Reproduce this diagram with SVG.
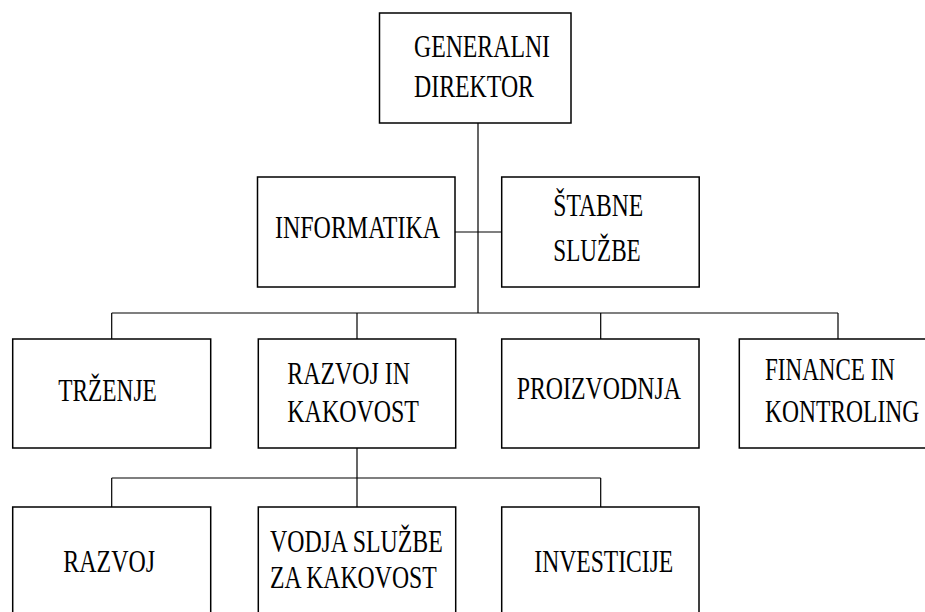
<svg xmlns="http://www.w3.org/2000/svg" width="925" height="612" viewBox="0 0 925 612">
<style>
.box{fill:#fff;stroke:#000;stroke-width:1.5}
text{font-family:'Liberation Serif','Times New Roman','DejaVu Serif',serif;font-size:31px;fill:#000}
.c{fill:none;stroke:#000;stroke-width:1.2}
</style>
<rect width="925" height="612" fill="#fff"/>
<g id="connectors">
<path class="c" d="M478,123V313M455,232H502M111.7,313H838M111.7,313V339M357,313V339M600.7,313V339M838,313V339M357,448V507M111.7,478H600.7M111.7,478V507M600.7,478V507"/>
</g>
<g id="generalni">
<rect class="box" x="379.5" y="13" width="191.5" height="110"/>
<text x="414" y="56.7" textLength="136" lengthAdjust="spacingAndGlyphs">GENERALNI</text>
<text x="414" y="96.7" textLength="120" lengthAdjust="spacingAndGlyphs">DIREKTOR</text>
</g>
<g id="informatika">
<rect class="box" x="257.5" y="177" width="197.5" height="110"/>
<text x="275" y="238.3" textLength="165" lengthAdjust="spacingAndGlyphs">INFORMATIKA</text>
</g>
<g id="stabne">
<rect class="box" x="501.7" y="177" width="197.5" height="110"/>
<text x="553.3" y="215.7" textLength="90" lengthAdjust="spacingAndGlyphs">ŠTABNE</text>
<text x="553.3" y="260.7" textLength="87.4" lengthAdjust="spacingAndGlyphs">SLUŽBE</text>
</g>
<g id="trzenje">
<rect class="box" x="12.7" y="339" width="198" height="109"/>
<text x="58.3" y="400.7" textLength="98.4" lengthAdjust="spacingAndGlyphs">TRŽENJE</text>
</g>
<g id="razvoj-kakovost">
<rect class="box" x="258.3" y="339" width="197.4" height="109"/>
<text x="287.3" y="384.3" textLength="122.7" lengthAdjust="spacingAndGlyphs">RAZVOJ IN</text>
<text x="287.3" y="421.7" textLength="131.7" lengthAdjust="spacingAndGlyphs">KAKOVOST</text>
</g>
<g id="proizvodnja">
<rect class="box" x="501.7" y="339" width="197.3" height="109"/>
<text x="516.7" y="399" textLength="164.3" lengthAdjust="spacingAndGlyphs">PROIZVODNJA</text>
</g>
<g id="finance">
<rect class="box" x="739.3" y="339" width="186.5" height="109"/>
<g transform="translate(765,0) scale(0.76,1)">
<text x="0" y="380" textLength="171" lengthAdjust="spacingAndGlyphs">FINANCE IN</text>
<text x="0" y="421.7" textLength="203" lengthAdjust="spacingAndGlyphs">KONTROLING</text>
</g>
</g>
<g id="razvoj">
<rect class="box" x="12.7" y="507" width="198" height="120"/>
<text x="63.3" y="572.3" textLength="91.7" lengthAdjust="spacingAndGlyphs">RAZVOJ</text>
</g>
<g id="vodja">
<rect class="box" x="258.3" y="507" width="197.4" height="120"/>
<text x="270" y="551.7" textLength="172.7" lengthAdjust="spacingAndGlyphs">VODJA SLUŽBE</text>
<text x="270" y="588.3" textLength="166.7" lengthAdjust="spacingAndGlyphs">ZA KAKOVOST</text>
</g>
<g id="investicije">
<rect class="box" x="501.7" y="507" width="197.3" height="120"/>
<text x="534.3" y="571.7" textLength="139" lengthAdjust="spacingAndGlyphs">INVESTICIJE</text>
</g>
</svg>
